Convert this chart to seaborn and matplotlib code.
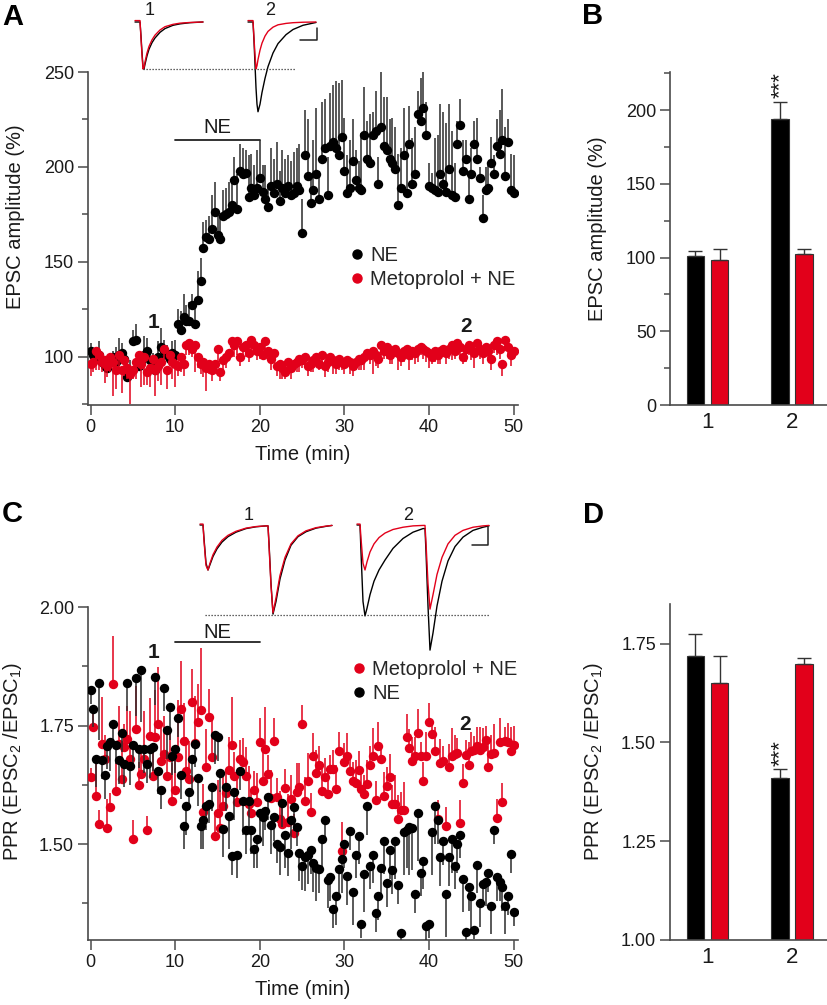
import sys
import numpy as np
import pandas as pd
import matplotlib
matplotlib.use("Agg")
import matplotlib.pyplot as plt
import seaborn as sns
from matplotlib.lines import Line2D
from matplotlib.ticker import FixedLocator, FormatStrFormatter

# ---------------- data ----------------
ne_amp = [103,101,99,101,97,95,94,98,100,97,
          101,102,99,89,92,108,109,95,97,101,
          103,98,96,93,100,105,103,101,99,102,
          101,117,114,121,119,119,127,117,130,140,
          157,163,162,167,176,164,162,174,175,176,
          180,193,178,198,196,197,184,189,185,189,
          194,187,183,179,190,186,191,182,189,186,
          190,185,186,190,188,165,206,195,181,188,
          196,183,204,210,185,211,213,210,206,216,
          198,186,189,203,193,189,188,217,204,202,
          217,219,191,221,211,209,204,202,199,180,
          189,206,186,212,191,196,228,224,231,217,
          190,189,188,187,196,191,187,199,185,184,
          212,222,198,204,183,196,212,204,194,173,
          188,189,202,196,211,207,214,195,213,188,
          186]
ne_amp_err = [4,3,5,7,3,4,6,4,3,8,9,5,4,10,6,6,8,4,5,10,7,4,6,5,8,10,6,5,4,6,8,
              8,10,12,8,10,6,12,15,12,
              14,9,12,18,16,10,12,14,14,16,14,12,18,14,14,12,22,18,16,20,20,14,18,12,20,
              18,22,16,20,18,16,18,22,20,24,
              18,24,30,12,26,35,15,30,26,20,28,30,35,38,30,28,20,25,22,16,14,30,25,20,26,12,
              21,14,29,26,28,21,24,22,27,21,25,26,20,24,25,12,23,26,17,12,
              8,27,30,37,38,36,34,34,18,12,14,16,10,12,14,12,22,6,12,12,
              12,14,10,14,23,27,26,12,19,20]
met_amp = [96,97,103,101,97,98,95,100,97,93,
           101,93,98,94,91,93,97,101,96,100,
           92,94,99,93,95,97,104,93,101,97,
           96,95,100,96,106,107,104,106,100,96,
           97,94,96,93,96,104,92,98,100,102,
           108,106,108,100,105,106,102,109,106,103,
           105,101,108,103,99,102,95,96,94,92,
           97,94,96,97,99,98,100,95,96,98,
           100,96,101,95,97,100,98,96,99,97,
           96,98,97,95,97,99,98,100,102,101,
           103,101,99,106,103,105,101,103,104,102,
           100,103,104,101,103,102,104,105,104,103,
           102,100,103,101,103,104,102,104,106,103,
           107,105,100,104,106,104,102,107,104,102,
           105,103,99,106,108,104,96,109,105,101,
           103]
met_amp_err = [6,5,10,8,5,12,6,8,18,10,7,12,8,6,16,5,9,6,12,15,7,10,5,14,8,12,6,10,4,9,12,5,8,6,
               5,6,4,14,6,5,8,12,5,6,4,7,5,8,6,4,5,6,7,5,4,6,5,8,4,5,6,3,7,5,
               6,4,5,8,6,4,5,6,3,5,7,4,6,5,4,6,5,3,4,6,5,4,7,5,6,4,5,3,6,5,
               4,6,5,7,4,5,12,6,5,8,4,6,5,7,4,9,5,6,4,8,5,6,7,4,5,6,8,4,6,5,
               7,4,6,5,8,4,5,6,4,7,5,6,8,4,5,6,4,
               5,6,4,7,5,6,4,5,6,4]

ne_ppr = [1.826,1.786,1.68,1.84,1.677,1.646,1.708,1.715,1.754,1.71,
          1.677,1.735,1.67,1.84,1.665,1.71,1.85,1.70,1.868,1.70,
          1.67,1.70,1.705,1.853,1.655,1.615,1.83,1.74,1.79,1.685,
          1.70,1.767,1.645,1.539,1.58,1.611,1.68,1.712,1.64,1.539,
          1.55,1.58,1.585,1.62,1.73,1.725,1.65,1.533,1.62,1.56,
          1.476,1.61,1.478,1.655,1.59,1.53,1.59,1.53,1.49,1.51,
          1.565,1.557,1.57,1.60,1.54,1.557,1.50,1.495,1.587,1.52,
          1.482,1.55,1.578,1.536,1.482,1.453,1.472,1.477,1.487,1.46,
          1.45,1.447,1.51,1.55,1.425,1.43,1.364,1.39,1.447,1.468,
          1.50,1.432,1.528,1.40,1.478,1.518,1.332,1.437,1.58,1.455,
          1.478,1.355,1.39,1.45,1.507,1.418,1.487,1.445,1.506,1.414,
          1.313,1.525,1.53,1.536,1.535,1.394,1.565,1.44,1.465,1.328,
          1.332,1.525,1.58,1.55,1.472,1.506,1.395,1.472,1.51,1.455,
          1.50,1.52,1.427,1.315,1.41,1.39,1.32,1.457,1.375,1.417,
          1.42,1.44,1.37,1.53,1.43,1.42,1.41,1.37,1.39,1.48,
          1.357]
ne_ppr_err = [.03,.04,.06,.12,.04,.05,.05,.06,.05,.04,
              .05,.04,.05,.06,.04,.05,.08,.04,.11,.05,
              .04,.06,.05,.06,.05,.04,.05,.06,.07,.04,
              .05,.04,.05,.05,.06,.04,.07,.05,.06,.05,
              .06,.05,.04,.05,.06,.05,.04,.06,.05,.07,
              .04,.06,.05,.04,.07,.05,.06,.05,.04,.06,
              .05,.06,.04,.05,.06,.05,.04,.06,.05,.07,
              .05,.06,.05,.04,.06,.05,.07,.06,.05,.06,
              .07,.05,.06,.04,.06,.05,.04,.06,.05,.07,
              .05,.06,.04,.07,.05,.06,.03,.08,.06,.05,
              .06,.04,.05,.06,.07,.05,.06,.05,.08,.04,
              .02,.09,.08,.10,.09,.04,.10,.05,.06,.03,
              .03,.09,.08,.05,.06,.05,.09,.06,.07,.05,
              .06,.05,.07,.02,.05,.08,.02,.06,.05,.04,
              .05,.04,.06,.03,.05,.04,.05,.06,.04,.04,
              .03]
met_ppr = [1.641,1.746,1.602,1.543,1.711,1.68,1.535,1.578,1.838,1.613,
           1.711,1.637,1.704,1.722,1.68,1.511,1.743,1.624,1.648,1.68,
           1.529,1.729,1.644,1.725,1.753,1.675,1.69,1.644,1.683,1.592,
           1.615,1.683,1.786,1.718,1.655,1.637,1.80,1.713,1.758,1.783,
           1.567,1.662,1.768,1.683,1.518,1.565,1.534,1.581,1.607,1.656,
           1.71,
           1.644,1.589,1.68,1.673,1.644,1.585,1.565,1.615,1.589,1.715,
           1.634,1.70,1.648,1.597,1.717,1.599,1.553,1.543,1.619,1.546,
           1.596,1.524,1.611,1.621,1.753,1.592,1.633,1.567,1.685,1.649,
           1.667,1.613,1.641,1.606,1.659,1.659,1.617,1.697,1.486,1.674,
           1.685,1.655,1.634,1.628,1.656,1.617,1.605,1.627,1.666,1.685,
           1.593,1.708,
           1.679,1.602,1.623,1.641,1.585,1.585,1.553,1.571,1.571,1.725,
           1.702,1.676,1.686,1.735,1.686,1.634,1.686,1.757,1.732,1.697,
           1.553,1.672,1.676,1.539,1.662,1.685,1.69,1.693,1.544,1.63,
           1.689,1.666,1.697,1.698,1.708,1.698,1.705,1.719,1.663,1.69,
           1.693,1.556,1.716,1.588,1.718,1.716,1.697,1.71]
met_ppr_err = [.02,.04,.08,.03,.10,.05,.06,.03,.10,.06,
               .08,.06,.05,.07,.10,.04,.09,.05,.06,.10,
               .03,.08,.06,.10,.12,.07,.08,.05,.06,.08,
               .06,.12,.10,.08,.07,.08,.07,.10,.08,.13,
               .06,.08,.06,.09,.05,.07,.08,.06,.05,.07,
               .10,.05,.06,.04,.05,.06,.08,.05,.04,.06,
               .05,.07,.09,.04,.06,.05,.04,.06,.05,.04,
               .06,.05,.04,.06,.05,.04,.05,.06,.04,.05,
               .05,.04,.06,.04,.05,.03,.04,.05,.04,.06,
               .04,.05,.03,.04,.05,.04,.03,.04,.05,.04,
               .06,.04,.05,.03,.05,.04,.05,.04,.06,.05,
               .04,.06,.05,.04,.05,.04,.05,.03,.04,.05,
               .04,.03,.05,.04,.05,.03,.04,.05,.06,.04,
               .03,.05,.04,.03,.05,.04,.03,.04,.05,.04,
               .03,.05,.04,.06,.04,.05,.04,.03,.04,.05,
               .04]

_lens = {k: len(v) for k, v in dict(ne_amp=ne_amp, ne_amp_err=ne_amp_err, met_amp=met_amp,
         met_amp_err=met_amp_err, ne_ppr=ne_ppr, ne_ppr_err=ne_ppr_err,
         met_ppr=met_ppr, met_ppr_err=met_ppr_err).items()}
if len(set(_lens.values())) != 1:
    print(_lens, file=sys.stderr)
    raise SystemExit(1)

# bar summaries (order: NE period1, Met period1, NE period2, Met period2)
periods = ["1", "1", "2", "2"]
groups = ["NE", "Metoprolol + NE", "NE", "Metoprolol + NE"]
bar_amp = [101, 98.3, 194.4, 102.2]
bar_amp_err = [3.6, 7.7, 11.2, 4.0]
bar_ppr = [1.719, 1.65, 1.409, 1.698]
bar_ppr_err = [0.054, 0.069, 0.023, 0.016]

# example traces (normalised amplitude)
tr_t = [0, 5, 6, 7, 8, 9, 10, 12, 14, 17, 20, 25, 30, 38, 45, 55, 68]
tr1_black = [0, 0, -0.3, -0.65, -0.95, -1.0, -0.9, -0.72, -0.58, -0.44, -0.34, -0.22, -0.14, -0.07, -0.04, -0.015, 0]
tr1_red = [0.03, 0.03, -0.35, -0.7, -1.0, -0.97, -0.85, -0.66, -0.52, -0.38, -0.28, -0.17, -0.1, -0.05, -0.025, -0.01, 0]
tr2_black = [0, 0, -0.4, -0.9, -1.4, -1.75, -1.91, -1.75, -1.5, -1.2, -0.95, -0.66, -0.46, -0.27, -0.16, -0.07, -0.01]
tr2_red = [0.03, 0.03, -0.35, -0.7, -1.0, -0.93, -0.8, -0.6, -0.45, -0.3, -0.2, -0.11, -0.06, -0.03, -0.015, -0.005, 0]

pp_t = [0, 3, 4, 6, 8, 10, 13, 17, 22, 28, 36, 46, 56, 66, 68, 69, 71, 73, 76, 80, 85, 91, 98, 106, 116, 126, 132]
pp1_black = [0,0,-0.3,-0.85,-1.0,-0.88,-0.7,-0.53,-0.38,-0.26,-0.16,-0.08,-0.04,-0.02,-0.02,-0.4,-1.3,-1.98,-1.7,-1.2,-0.78,-0.45,-0.26,-0.15,-0.07,-0.03,-0.01]
pp1_red = [0.02,0.02,-0.35,-0.9,-1.0,-0.85,-0.66,-0.49,-0.34,-0.23,-0.14,-0.07,-0.035,-0.02,-0.02,-0.45,-1.35,-1.95,-1.62,-1.12,-0.72,-0.42,-0.24,-0.13,-0.06,-0.025,-0.01]
pp2_black = [0,0,-0.6,-1.7,-2.02,-1.85,-1.55,-1.25,-1.0,-0.78,-0.52,-0.3,-0.16,-0.08,-0.08,-0.6,-1.8,-2.78,-2.4,-1.8,-1.25,-0.8,-0.48,-0.27,-0.12,-0.05,-0.02]
pp2_red = [0.02,0.02,-0.3,-0.85,-1.0,-0.82,-0.6,-0.42,-0.28,-0.18,-0.1,-0.05,-0.02,-0.01,-0.01,-0.4,-1.3,-1.87,-1.55,-1.1,-0.72,-0.42,-0.23,-0.12,-0.05,-0.02,-0.01]

time_min = np.arange(len(ne_amp)) / 3.0

# ---------------- style ----------------
sns.set_theme(style="ticks")
plt.rcParams["font.family"] = ["Liberation Sans", "DejaVu Sans"]
plt.rcParams["mathtext.fontset"] = "custom"
plt.rcParams["mathtext.rm"] = "Liberation Sans"
plt.rcParams["mathtext.it"] = "Liberation Sans:italic"

BLACK = "#000000"
RED = "#e2001a"
AXC = "#4a4a4a"
TXT = "#1a1a1a"
W, H = 828, 1005

fig = plt.figure(figsize=(W / 100, H / 100), dpi=100)


def px_axes(x0, y0, x1, y1):
    return fig.add_axes([x0 / W, 1 - y1 / H, (x1 - x0) / W, (y1 - y0) / H])


def style(ax):
    sns.despine(ax=ax)
    for s in ["left", "bottom"]:
        ax.spines[s].set_color(AXC)
        ax.spines[s].set_linewidth(1.2)
    ax.tick_params(which="both", direction="out", color=AXC, width=1.1,
                   labelcolor=TXT, labelsize=13)
    ax.tick_params(which="major", length=7, pad=3)
    ax.tick_params(which="minor", length=4.5)


def timecourse(ax, t, v, e, color, ecolor, up, z):
    v = np.asarray(v); e = np.asarray(e)
    lo, hi = (v, v + e) if up else (v - e, v)
    ax.vlines(t, lo, hi, color=ecolor, lw=1.1, zorder=z)
    sns.scatterplot(x=t, y=v, color=color, s=46, linewidth=0, ax=ax,
                    zorder=z + 0.5, legend=False)


def bars(ax, vals, errs, ylab):
    df = pd.DataFrame({"period": periods, "group": groups, "val": vals})
    sns.barplot(data=df, x="period", y="val", hue="group",
                hue_order=["NE", "Metoprolol + NE"], palette=[BLACK, RED],
                saturation=1, width=0.57, gap=0.29, edgecolor="#333333",
                linewidth=0.8, errorbar=None, ax=ax, legend=False)
    patches = sorted(ax.patches, key=lambda p: p.get_x())
    xs = [p.get_x() + p.get_width() / 2 for p in patches]
    hs = [p.get_height() for p in patches]
    ax.errorbar(xs, hs, yerr=[[0] * 4, errs], fmt="none", ecolor="#333333",
                elinewidth=1.0, capsize=5, capthick=1.0, zorder=5)
    style(ax)
    ax.tick_params(axis="x", length=0, labelsize=16, pad=5)
    ax.set_xlabel("")
    ax.set_ylabel(ylab, fontsize=14.5, color=TXT)
    return xs, hs


# ---------------- Panel A ----------------
axA = px_axes(88, 72, 518, 405)
timecourse(axA, time_min, ne_amp, ne_amp_err, BLACK, "#2b2b2b", True, 3)
timecourse(axA, time_min, met_amp, met_amp_err, RED, RED, False, 5)
axA.set_xlim(-0.3, 50.5)
axA.set_ylim(74.5, 250)
axA.yaxis.set_major_locator(FixedLocator([100, 150, 200, 250]))
axA.yaxis.set_minor_locator(FixedLocator([75, 125, 175, 225]))
axA.xaxis.set_major_locator(FixedLocator([0, 10, 20, 30, 40, 50]))
style(axA)
axA.set_xlabel("Time (min)", fontsize=14.5, color=TXT)
axA.set_ylabel("EPSC amplitude (%)", fontsize=14.5, color=TXT)
axA.xaxis.set_label_coords(0.5, -0.12)
axA.yaxis.set_label_coords(-0.147, 0.565)
axA.plot([10, 20], [214, 214], color="#222222", lw=1.3)
axA.text(15, 220.5, "NE", ha="center", va="center", fontsize=14.5, color=TXT)
axA.text(7.4, 118, "1", ha="center", va="center", fontsize=15, fontweight="bold", color=TXT)
axA.text(44.4, 116, "2", ha="center", va="center", fontsize=15, fontweight="bold", color=TXT)
hA = [Line2D([], [], marker="o", ls="", color=BLACK, markersize=6.5, label="NE"),
      Line2D([], [], marker="o", ls="", color=RED, markersize=6.5, label="Metoprolol + NE")]
axA.legend(handles=hA, loc="upper left", bbox_to_anchor=(351 / W, 1 - 246 / H),
           bbox_transform=fig.transFigure, frameon=False, handlelength=0.6,
           handletextpad=0.35, labelspacing=0.25, borderpad=0, borderaxespad=0,
           fontsize=14.5)

# inset traces A
insA = px_axes(130, 0, 325, 118)
insA.set_xlim(0, 195)
insA.set_ylim(-2.043, 0.468)
insA.axis("off")
off1, off2 = 5, 118
insA.plot(np.array(tr_t) + off1, tr1_black, color=BLACK, lw=1.0)
insA.plot(np.array(tr_t) + off1, tr1_red, color=RED, lw=1.0)
insA.plot(np.array(tr_t) + off2, tr2_black, color=BLACK, lw=1.0)
insA.plot(np.array(tr_t) + off2, tr2_red, color=RED, lw=1.0)
insA.plot([13, 165], [-1.0, -1.0], color="#333333", lw=0.9, ls=(0, (1, 1.4)))
insA.plot([170, 187, 187], [-0.383, -0.383, -0.128], color="#222222", lw=1.1)
insA.text(20, 0.255, "1", ha="center", va="center", fontsize=13, color=TXT)
insA.text(140, 0.255, "2", ha="center", va="center", fontsize=13, color=TXT)

# ---------------- Panel B ----------------
axB = px_axes(670, 72, 828, 405)
xsB, hsB = bars(axB, bar_amp, bar_amp_err, "EPSC amplitude (%)")
axB.set_xlim(-0.444, 1.426)
axB.set_ylim(0, 226)
axB.yaxis.set_major_locator(FixedLocator([0, 50, 100, 150, 200]))
axB.yaxis.set_minor_locator(FixedLocator([25, 75, 125, 175, 225]))
axB.yaxis.set_label_coords(-0.40, 0.53)
axB.text(xsB[2], hsB[2] + bar_amp_err[2] + 2.5, "***", rotation=90,
         ha="center", va="bottom", fontsize=16, color=TXT)

# ---------------- Panel C ----------------
axC = px_axes(88, 607, 518, 940)
timecourse(axC, time_min, met_ppr, met_ppr_err, RED, RED, True, 3)
timecourse(axC, time_min, ne_ppr, ne_ppr_err, BLACK, "#2b2b2b", False, 5)
axC.set_xlim(-0.3, 50.5)
axC.set_ylim(1.298, 2.0)
axC.yaxis.set_major_locator(FixedLocator([1.50, 1.75, 2.00]))
axC.yaxis.set_minor_locator(FixedLocator([1.375, 1.625, 1.875]))
axC.yaxis.set_major_formatter(FormatStrFormatter("%.2f"))
axC.xaxis.set_major_locator(FixedLocator([0, 10, 20, 30, 40, 50]))
style(axC)
axC.set_xlabel("Time (min)", fontsize=14.5, color=TXT)
axC.set_ylabel("PPR (EPSC$_2$ /EPSC$_1$)", fontsize=14.5, color=TXT)
axC.xaxis.set_label_coords(0.5, -0.12)
axC.yaxis.set_label_coords(-0.149, 0.535)
axC.plot([10, 20], [1.926, 1.926], color="#222222", lw=1.3)
axC.text(15, 1.947, "NE", ha="center", va="center", fontsize=14.5, color=TXT)
axC.text(7.4, 1.905, "1", ha="center", va="center", fontsize=15, fontweight="bold", color=TXT)
axC.text(44.2, 1.753, "2", ha="center", va="center", fontsize=15, fontweight="bold", color=TXT)
hC = [Line2D([], [], marker="o", ls="", color=RED, markersize=6.5, label="Metoprolol + NE"),
      Line2D([], [], marker="o", ls="", color=BLACK, markersize=6.5, label="NE")]
axC.legend(handles=hC, loc="upper left", bbox_to_anchor=(353 / W, 1 - 660 / H),
           bbox_transform=fig.transFigure, frameon=False, handlelength=0.6,
           handletextpad=0.35, labelspacing=0.25, borderpad=0, borderaxespad=0,
           fontsize=14.5)

# inset traces C
insC = px_axes(195, 505, 495, 660)
insC.set_xlim(0, 300)
insC.set_ylim(-3.0, 0.444)
insC.axis("off")
o1, o2 = 5, 162
insC.plot(np.array(pp_t) + o1, pp1_black, color=BLACK, lw=1.0)
insC.plot(np.array(pp_t) + o1, pp1_red, color=RED, lw=1.0)
insC.plot(np.array(pp_t) + o2, pp2_black, color=BLACK, lw=1.0)
insC.plot(np.array(pp_t) + o2, pp2_red, color=RED, lw=1.0)
insC.plot([10, 295], [-2.0, -2.0], color="#333333", lw=0.9, ls=(0, (1, 1.4)))
insC.plot([277, 293, 293], [-0.444, -0.444, -0.044], color="#222222", lw=1.1)
insC.text(54, 0.22, "1", ha="center", va="center", fontsize=13, color=TXT)
insC.text(213, 0.22, "2", ha="center", va="center", fontsize=13, color=TXT)

# ---------------- Panel D ----------------
axD = px_axes(670, 604, 828, 940)
xsD, hsD = bars(axD, bar_ppr, bar_ppr_err, "PPR (EPSC$_2$ /EPSC$_1$)")
axD.set_xlim(-0.444, 1.426)
axD.set_ylim(1.0, 1.85)
axD.yaxis.set_major_locator(FixedLocator([1.00, 1.25, 1.50, 1.75]))
axD.yaxis.set_major_formatter(FormatStrFormatter("%.2f"))
axD.yaxis.set_label_coords(-0.41, 0.53)
axD.text(xsD[2], hsD[2] + bar_ppr_err[2] + 0.008, "***", rotation=90,
         ha="center", va="bottom", fontsize=16, color=TXT)

# panel letters
for lab, x, y in [("A", 13, 17), ("B", 593, 16), ("C", 12, 514), ("D", 594, 515)]:
    fig.text(x / W, 1 - y / H, lab, ha="center", va="center", fontsize=21,
             fontweight="bold", color=BLACK)

fig.savefig("out.png", dpi=100)
